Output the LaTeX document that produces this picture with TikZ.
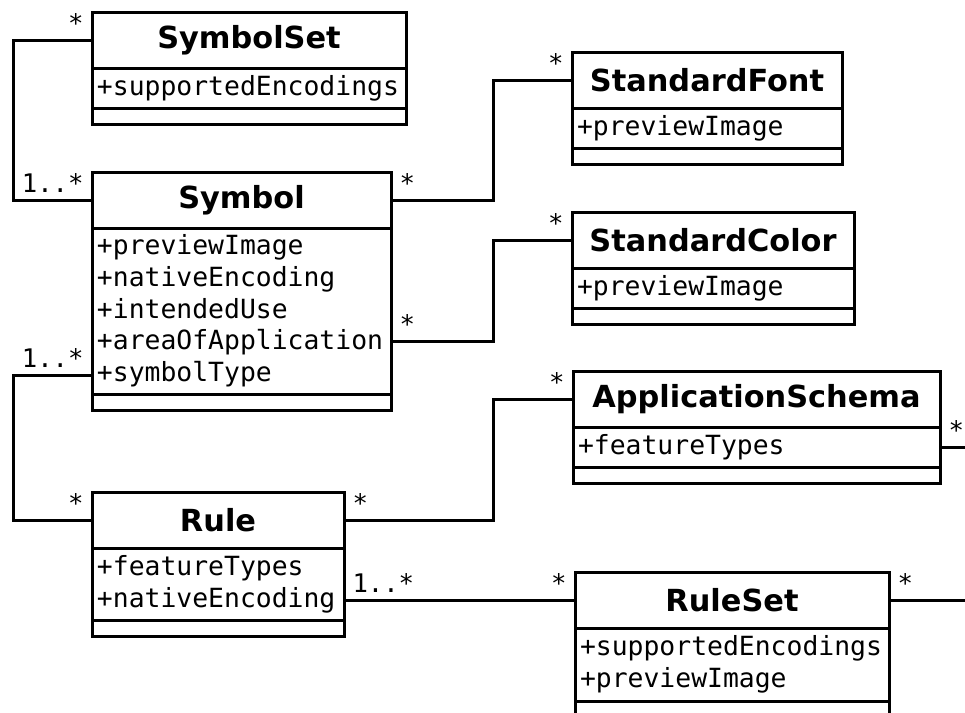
\documentclass[tikz,border=0pt]{standalone}
\usepackage{fontspec}
\newfontfamily\umlsans{DejaVu Sans}
\newfontfamily\umlmono{DejaVu Sans Mono}
\newcommand{\umlheadfont}{\umlsans\bfseries\fontsize{15.2}{18}\selectfont}
\newcommand{\umlattrfont}{\umlmono\fontsize{13.2}{15.85}\selectfont}
\newcommand{\umlmultfont}{\umlmono\fontsize{12.8}{14}\selectfont}
\usetikzlibrary{positioning}
\tikzset{
    classname/.style ={rectangle, draw, anchor=north west, outer sep=0pt,
                       inner sep=0pt, minimum height=28pt, font=\umlheadfont},
    classattr/.style ={rectangle, draw, anchor=north west, outer sep=0pt,
                       inner xsep=2.5pt, inner ysep=0pt, align=left, font=\umlattrfont},
    classops/.style ={rectangle, draw, anchor=north west, outer sep=0pt,
                      inner sep=0pt, minimum height=8pt},
    mult/.style = {inner xsep=3.5pt, inner ysep=3pt, font=\umlmultfont}
    }

\begin{document}
\begin{tikzpicture}[
      x = 0.5pt, y = -0.5pt, % pixel grid, y goes down
      line width = 1.5pt
    ]
    \clip (0, 0) rectangle (965, 713);

    \coordinate (lrail) at (13, 0);
    \coordinate (mrail) at (493, 0);
    \coordinate (rend) at (965, 0);

    \node[classname, minimum width=157pt] (symset) at (92, 12) {SymbolSet};
    \node[classattr, text width=152pt, minimum height=20pt] (symset-a) at (symset.south west) {+supportedEncodings};
    \node[classops, minimum width=157pt] (symset-o) at (symset-a.south west) {};

    \node[classname, minimum width=149.5pt] (sym) at (92, 172) {Symbol};
    \node[classattr, text width=144.5pt, minimum height=83pt] (sym-a) at (sym.south west)
        {+previewImage\\+nativeEncoding\\+intendedUse\\+areaOfApplication\\+symbolType};
    \node[classops, minimum width=149.5pt] (sym-o) at (sym-a.south west) {};

    \node[classname, minimum width=135pt] (sfont) at (572, 52) {StandardFont};
    \node[classattr, text width=130pt, minimum height=20pt] (sfont-a) at (sfont.south west) {+previewImage};
    \node[classops, minimum width=135pt] (sfont-o) at (sfont-a.south west) {};

    \node[classname, minimum width=141pt] (scolor) at (572, 212) {StandardColor};
    \node[classattr, text width=136pt, minimum height=20pt] (scolor-a) at (scolor.south west) {+previewImage};
    \node[classops, minimum width=141pt] (scolor-o) at (scolor-a.south west) {};

    \node[classname, minimum width=183.5pt] (appschema) at (573, 371) {ApplicationSchema};
    \node[classattr, text width=178.5pt, minimum height=20pt] (appschema-a) at (appschema.south west) {+featureTypes};
    \node[classops, minimum width=183.5pt] (appschema-o) at (appschema-a.south west) {};

    \node[classname, minimum width=126pt] (rule) at (92, 492) {Rule};
    \node[classattr, text width=121pt, minimum height=36pt] (rule-a) at (rule.south west)
        {+featureTypes\\+nativeEncoding};
    \node[classops, minimum width=126pt] (rule-o) at (rule-a.south west) {};

    \node[classname, minimum width=157pt] (ruleset) at (575, 572) {RuleSet};
    \node[classattr, text width=152pt, minimum height=36.5pt] (ruleset-a) at (ruleset.south west)
        {+supportedEncodings\\+previewImage};
    \node[classops, minimum width=157pt] (ruleset-o) at (ruleset-a.south west) {};

    % associations
    \draw (symset.west) node[mult, above left] (m1) {*}
        -- (symset.west -| lrail) |- (sym.west) node[mult, above left] (m2) {1..*};
    \draw (sym.east) node[mult, above right] (m3) {*}
        -| (sfont.west -| mrail) -- (sfont.west) node[mult, above left] (m4) {*};
    \draw ([yshift=-15pt]sym-a.east) node[mult, above right] (m5) {*}
        -| (scolor.west -| mrail) -- (scolor.west) node[mult, above left] (m6) {*};
    \draw ([yshift=-32pt]sym-a.west) node[mult, above left] (m7) {1..*}
        -| (rule.west -| lrail) -- (rule.west) node[mult, above left] (m8) {*};
    \draw (rule.east) node[mult, above right] (m9) {*}
        -| (appschema.west -| mrail) -- (appschema.west) node[mult, above left] (m10) {*};
    \draw (rule-a.east |- ruleset.west) node[mult, above right] (m11) {1..*}
        -- (ruleset.west) node[mult, above left] (m12) {*};
    \draw (appschema-a.east) node[mult, above right] (m13) {*} -- (appschema-a.east -| rend);
    \draw (ruleset.east) node[mult, above right] (m14) {*} -- (ruleset.east -| rend);
\end{tikzpicture}
\end{document}
